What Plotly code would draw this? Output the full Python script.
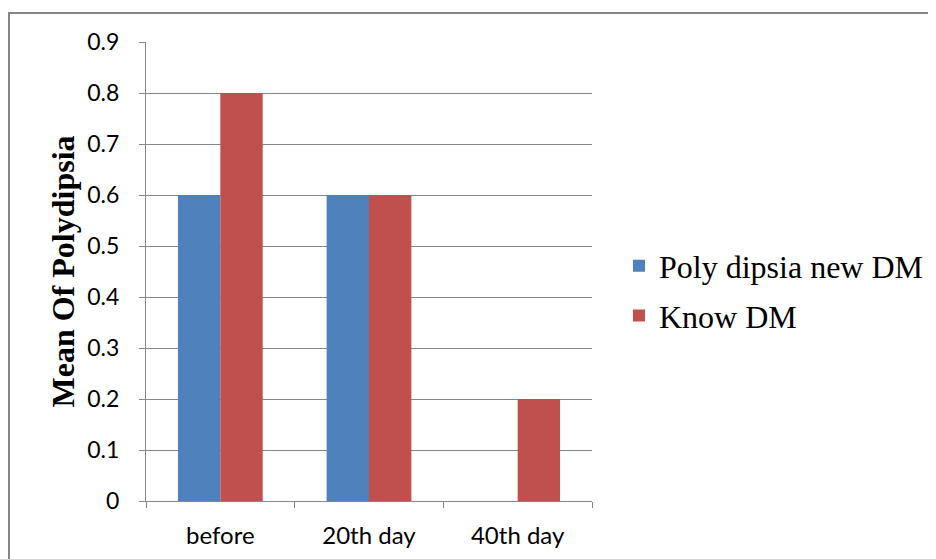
import plotly.graph_objects as go

categories = ["before", "20th day", "40th day"]
new_dm = [0.6, 0.6, 0]
know_dm = [0.8, 0.6, 0.2]
series_names = ["Poly dipsia new DM", "Know DM"]
y_ticks = [0, 0.1, 0.2, 0.3, 0.4, 0.5, 0.6, 0.7, 0.8, 0.9]
y_tick_labels = ["0", "0.1", "0.2", "0.3", "0.4", "0.5", "0.6", "0.7", "0.8", "0.9"]

OFF = 8  # default page body margin
W, H = 936 - OFF, 559 - OFF
L, R, T, B = 146 - OFF, 592 - OFF, 42 - OFF, 501 - OFF
pw, ph = R - L, B - T
grid = "#868686"

fig = go.Figure()
fig.add_trace(go.Bar(x=categories, y=new_dm, name=series_names[0],
                     marker=dict(color="#4F81BD", line=dict(width=0)),
                     legendgroup="a"))
fig.add_trace(go.Bar(x=categories, y=know_dm, name=series_names[1],
                     marker=dict(color="#C0504D", line=dict(width=0)),
                     legendgroup="b"))

def px(x):
    return (x - OFF - L) / pw

def py(y):
    return (B - (y - OFF)) / ph

fig.update_layout(
    width=W, height=H,
    margin=dict(l=L, r=W - R, t=T, b=H - B, autoexpand=False),
    paper_bgcolor="white", plot_bgcolor="white",
    barmode="group", bargap=0.43, bargroupgap=0,
    showlegend=True,
    legend=dict(x=px(619), y=py(291), xanchor="left", yanchor="middle",
                font=dict(family="Liberation Serif", size=32, color="black"),
                traceorder="grouped", tracegroupgap=5, itemwidth=30,
                bgcolor="rgba(0,0,0,0)"),
    xaxis=dict(type="category", showgrid=False, showline=True, linecolor=grid,
               linewidth=1, ticks="outside", tickson="boundaries", ticklen=6,
               tickcolor=grid, tickfont=dict(family="Lato", size=24, color="black"),
               ticklabelstandoff=13, fixedrange=True),
    yaxis=dict(range=[0, 0.9], tickvals=y_ticks, ticktext=y_tick_labels,
               showgrid=True, gridcolor=grid, gridwidth=1, showline=True,
               linecolor=grid, linewidth=1, ticks="outside", ticklen=6,
               tickcolor=grid, tickfont=dict(family="Lato", size=23, color="black"),
               ticklabelstandoff=15, zeroline=False, fixedrange=True,
               title=dict(text="<b>Mean Of Polydipsia</b>", standoff=3,
                          font=dict(family="Liberation Serif", size=32, color="black"))),
    shapes=[dict(type="rect", xref="paper", yref="paper",
                 x0=px(9), x1=px(936 + 20), y0=py(559 + 20), y1=py(13),
                 line=dict(color=grid, width=2), fillcolor="rgba(0,0,0,0)",
                 layer="below")],
)

fig.write_html("out.html")
